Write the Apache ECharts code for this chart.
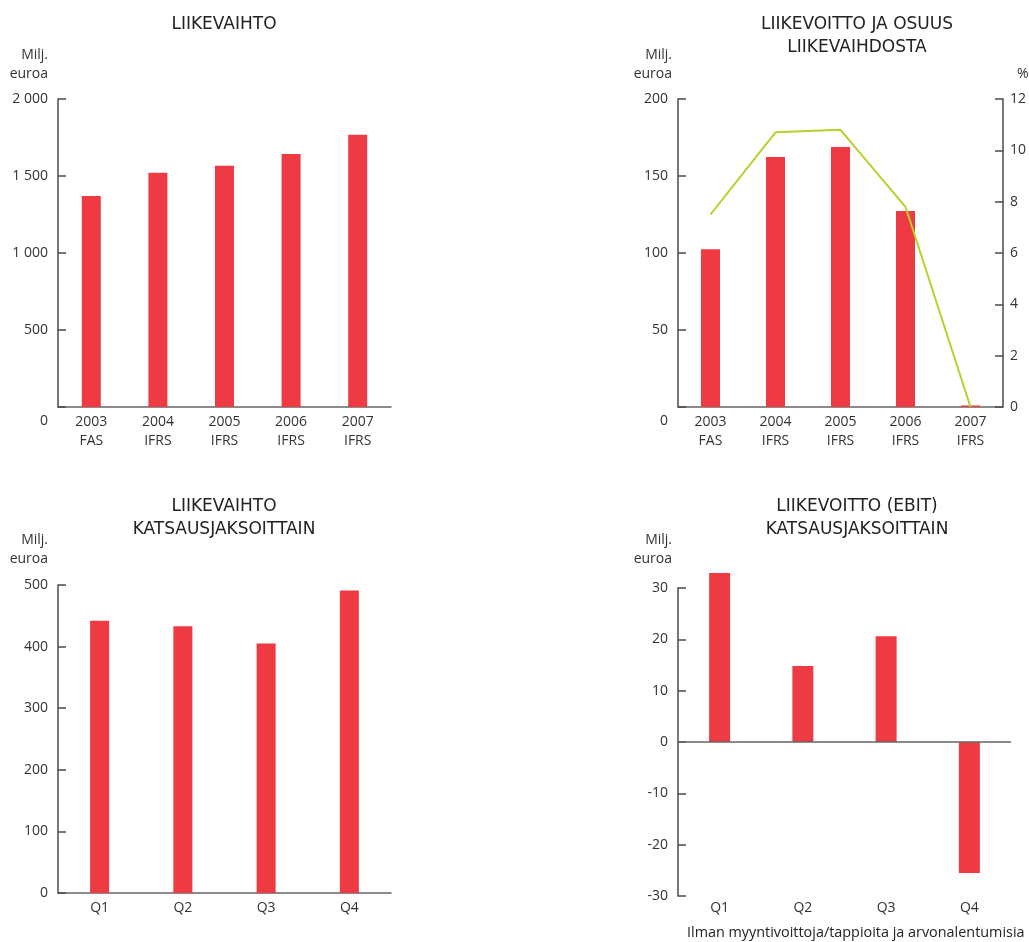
<!DOCTYPE html>
<html>
<head>
<meta charset="utf-8">
<script src="https://cdn.jsdelivr.net/npm/echarts@6/dist/echarts.min.js"></script>
<style>
  html, body { margin: 0; padding: 0; background: #fff; }
  #main { width: 1029px; height: 942px; }
</style>
</head>
<body>
<div id="main"></div>
<script>
// vuositason luvut
var years = ['2003\nFAS', '2004\nIFRS', '2005\nIFRS', '2006\nIFRS', '2007\nIFRS'];
var revenue = [1370, 1521, 1567, 1643, 1768];
var ebit = [102.4, 162.3, 168.8, 127.3, 1];
var ebitPct = [7.5, 10.7, 10.8, 7.8, 0];

// katsausjaksot
var quarters = ['Q1', 'Q2', 'Q3', 'Q4'];
var qRevenue = [442, 433, 405, 491];
var qEbit = [32.9, 14.8, 20.6, -25.5];

var RED = '#ee3a43';
var GREEN = '#b7d12a';
var AXIS = '#4a4a4a';
var TXT = '#333';
var FONT = 'Open Sans';
var TFONT = 'DejaVu Sans';

var myChart = echarts.init(document.getElementById('main'));

function yAx(idx, min, max, interval, fmt) {
    return {
        type: 'value', gridIndex: idx, min: min, max: max, interval: interval,
        splitLine: { show: false },
        axisLine: { show: true, lineStyle: { color: AXIS, width: 1.5 } },
        axisTick: { show: true, inside: true, length: 8, lineStyle: { color: AXIS, width: 1.5 } },
        axisLabel: { color: TXT, fontFamily: FONT, fontSize: 14, margin: 10, formatter: fmt, lineHeight: 28 }
    };
}

function xAx(idx, data, margin) {
    return {
        type: 'category', gridIndex: idx, data: data,
        axisLine: { show: true, onZero: false, lineStyle: { color: '#666', width: 1.5 } },
        axisTick: { show: false },
        axisLabel: { color: TXT, fontFamily: FONT, fontSize: 14, lineHeight: 19, margin: margin, interval: 0 }
    };
}

// nolla hieman akselin alapuolelle kuten alkuperäisessä
function spaced(v) {
    if (v === 0) return '\n0';
    return String(v).replace(/\B(?=(\d{3})+(?!\d))/g, ' ');
}

var unitStyle = { fill: TXT, font: '14px "' + FONT + '"', textAlign: 'right' };
var titleStyle = { fontFamily: TFONT, fontSize: 17, fontWeight: 'normal', color: '#222', lineHeight: 23 };

myChart.setOption({
    animation: false,
    title: [
        { text: 'LIIKEVAIHTO', left: 219, top: 8, textAlign: 'center', textStyle: titleStyle },
        { text: 'LIIKEVOITTO JA OSUUS\nLIIKEVAIHDOSTA', left: 852, top: 8, textAlign: 'center', textStyle: titleStyle },
        { text: 'LIIKEVAIHTO\nKATSAUSJAKSOITTAIN', left: 219, top: 490, textAlign: 'center', textStyle: titleStyle },
        { text: 'LIIKEVOITTO (EBIT)\nKATSAUSJAKSOITTAIN', left: 852, top: 490, textAlign: 'center', textStyle: titleStyle }
    ],
    graphic: [
        { type: 'text', x: 48, y: 48, style: Object.assign({ text: 'Milj.' }, unitStyle) },
        { type: 'text', x: 48, y: 67, style: Object.assign({ text: 'euroa' }, unitStyle) },
        { type: 'text', x: 672, y: 48, style: Object.assign({ text: 'Milj.' }, unitStyle) },
        { type: 'text', x: 672, y: 67, style: Object.assign({ text: 'euroa' }, unitStyle) },
        { type: 'text', x: 1017, y: 67, style: { text: '%', fill: TXT, font: '14px "' + FONT + '"' } },
        { type: 'text', x: 48, y: 533, style: Object.assign({ text: 'Milj.' }, unitStyle) },
        { type: 'text', x: 48, y: 552, style: Object.assign({ text: 'euroa' }, unitStyle) },
        { type: 'text', x: 672, y: 533, style: Object.assign({ text: 'Milj.' }, unitStyle) },
        { type: 'text', x: 672, y: 552, style: Object.assign({ text: 'euroa' }, unitStyle) },
        { type: 'text', x: 687, y: 926, style: { text: 'Ilman myyntivoittoja/tappioita ja arvonalentumisia', fill: '#222', font: '14.4px "' + FONT + '"' } }
    ],
    grid: [
        { left: 58, top: 99, width: 333, height: 308 },
        { left: 678, top: 99, width: 333, height: 308 },
        { left: 58, top: 585, width: 333, height: 308 },
        { left: 678, top: 588, width: 333, height: 308 }
    ],
    xAxis: [
        xAx(0, years, 6),
        xAx(1, years, 6),
        xAx(2, quarters, 6),
        Object.assign(xAx(3, quarters, 3), { axisLine: { show: false, onZero: false } })
    ],
    yAxis: [
        yAx(0, 0, 2000, 500, spaced),
        yAx(1, 0, 200, 50, spaced),
        {
            type: 'value', gridIndex: 1, position: 'right', min: 0, max: 12, interval: 2,
            splitLine: { show: false },
            axisLine: { show: true, lineStyle: { color: AXIS, width: 1.5 } },
            axisTick: { show: true, inside: true, length: 8, lineStyle: { color: AXIS, width: 1.5 } },
            axisLabel: { color: TXT, fontFamily: FONT, fontSize: 14, margin: 7 }
        },
        Object.assign(yAx(2, 0, 500, 100), { axisLabel: { color: TXT, fontFamily: FONT, fontSize: 14, margin: 10 } }),
        Object.assign(yAx(3, -30, 30, 10), { axisLabel: { color: TXT, fontFamily: FONT, fontSize: 14, margin: 10 } })
    ],
    series: [
        { type: 'bar', xAxisIndex: 0, yAxisIndex: 0, data: revenue, barWidth: 19, itemStyle: { color: RED } },
        { type: 'bar', xAxisIndex: 1, yAxisIndex: 1, data: ebit, barWidth: 19, itemStyle: { color: RED } },
        { type: 'line', xAxisIndex: 1, yAxisIndex: 2, data: ebitPct, symbol: 'none',
          lineStyle: { color: GREEN, width: 2 }, z: 5 },
        { type: 'bar', xAxisIndex: 2, yAxisIndex: 3, data: qRevenue, barWidth: 19, itemStyle: { color: RED } },
        { type: 'bar', xAxisIndex: 3, yAxisIndex: 4, data: qEbit, barWidth: 21, clip: false, itemStyle: { color: RED },
          markLine: {
              silent: true, symbol: 'none', label: { show: false },
              lineStyle: { color: '#666', width: 1.5, type: 'solid' },
              data: [{ yAxis: 0 }]
          } }
    ]
});
</script>
</body>
</html>
